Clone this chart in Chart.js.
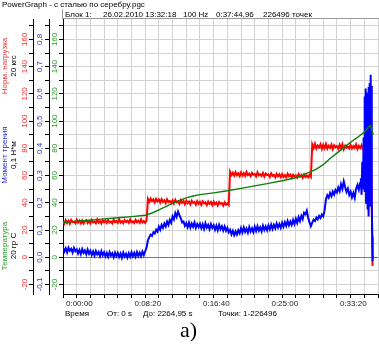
<!DOCTYPE html>
<html lang="ru">
<head>
<meta charset="UTF-8" />
<title>PowerGraph - с сталью по серебру.pgc</title>
<script src="https://cdn.jsdelivr.net/npm/chart.js"></script>
<style>
  body { margin: 0; background: #fff; }
  #wrap { position: relative; width: 379px; height: 345px; overflow: hidden;
          font-family: "Liberation Sans", Arial, sans-serif; font-size: 8px; color: #000; }
  #wrap canvas { position: absolute; left: 0; top: 0; }
  .txt { position: absolute; white-space: nowrap; line-height: 9px; }
  .vt { position: absolute; width: 80px; height: 18px; line-height: 9px; text-align: center;
        white-space: nowrap; transform: rotate(-90deg); }
  #blockbar { position: absolute; left: 62px; top: 9px; width: 317px; height: 9px;
              border-left: 1px solid #999; border-bottom: 1px solid #999; }
</style>
</head>
<body>
<div id="wrap">
  <canvas id="pgChart" width="379" height="345"></canvas>

  <div class="txt" style="left:2px; top:0px;">PowerGraph - с сталью по серебру.pgc</div>
  <div id="blockbar"></div>
  <div class="txt" style="left:65px; top:10px;">Блок 1:</div>
  <div class="txt" style="left:103px; top:10px;">26.02.2010 13:32:18</div>
  <div class="txt" style="left:183px; top:10px;">100 Hz</div>
  <div class="txt" style="left:216px; top:10px;">0:37:44,96</div>
  <div class="txt" style="left:263px; top:10px;">226496 точек</div>

  <!-- подписи осей слева -->
  <div class="vt" style="left:-31px; top:57px;"><span style="color:#f03030">Норм. нагрузка</span><br>20 кгс</div>
  <div class="vt" style="left:-31px; top:146px;"><span style="color:#2828d0">Момент трения</span><br>0,1 Н*м</div>
  <div class="vt" style="left:-31px; top:237px;"><span style="color:#30a030">Температура</span><br>20 гр С</div>

  <div class="txt" style="left:65px; top:309px;">Время</div>
  <div class="txt" style="left:107px; top:309px;">От: 0 s</div>
  <div class="txt" style="left:143px; top:309px;">До: 2264,95 s</div>
  <div class="txt" style="left:218px; top:309px;">Точки: 1-226496</div>
  <div class="txt" style="left:180px; top:318px; font-family:'Liberation Serif', serif; font-size:22px; line-height:24px;">a)</div>
</div>

<script>
  // отсчёты каждые 10 s, от 0 до 2260 s
  const SAMPLE_STEP = 10;

  // Норм. нагрузка (ед. шкалы 20 кгс)
  const loadValues = [
    26.5, 24.8, 27.2, 25.1, 26.9, 24.6, 27.4, 25.8, 26.1, 24.9,
    27.6, 25.3, 26.8, 25.0, 27.1, 24.7, 26.4, 27.3, 25.2, 26.7,
    24.9, 27.5, 25.6, 26.2, 25.0, 27.8, 25.4, 26.6, 24.8, 27.2,
    25.7, 26.9, 25.1, 27.4, 25.5, 26.3, 24.9, 27.6, 25.8, 26.7,
    25.2, 27.9, 25.4, 26.5, 25.0, 27.3, 25.9, 26.8, 25.3, 27.7,
    25.6, 26.4, 25.1, 27.5, 25.7, 26.9, 25.3, 27.8, 25.5, 26.6,
    25.2, 27.0, 42.8, 40.6, 43.1, 41.2, 42.5, 40.3, 42.9, 41.0,
    42.4, 40.1, 42.7, 40.8, 41.9, 39.8, 42.6, 40.5, 41.3, 39.9,
    41.8, 39.5, 42.2, 40.3, 41.0, 39.2, 41.9, 40.0, 41.4, 38.9,
    41.6, 39.7, 40.9, 38.8, 41.5, 39.9, 40.6, 38.6, 41.2, 39.4,
    40.7, 38.5, 41.1, 39.6, 40.2, 38.3, 40.9, 39.1, 40.5, 38.2,
    40.8, 38.9, 40.1, 38.0, 40.6, 39.3, 39.7, 37.9, 40.4, 38.6,
    39.5, 38.4, 62.8, 60.4, 62.1, 59.9, 62.5, 60.2, 61.7, 59.6,
    62.3, 60.0, 61.8, 59.7, 62.6, 60.3, 61.4, 59.5, 62.0, 60.6,
    61.2, 59.3, 62.4, 60.1, 61.0, 59.6, 61.9, 59.2, 61.5, 60.4,
    60.8, 58.9, 61.6, 59.8, 60.5, 58.7, 61.3, 59.4, 60.9, 58.8,
    61.1, 59.0, 60.3, 58.6, 61.4, 59.5, 60.7, 58.5, 60.6, 59.2,
    60.2, 58.4, 61.0, 59.1, 60.4, 58.3, 60.8, 58.9, 60.1, 58.7,
    60.5, 59.0, 82.9, 80.2, 83.4, 79.8, 82.1, 80.6, 83.0, 79.5,
    82.6, 80.0, 83.2, 79.7, 81.9, 80.4, 82.8, 79.4, 82.3, 80.8,
    81.6, 79.6, 82.7, 80.1, 83.1, 79.3, 82.0, 80.5, 81.4, 79.9,
    82.5, 79.8, 81.7, 80.3, 82.9, 79.5, 81.8, 80.2, 82.4, 79.7,
    81.5, 80.1, 82.2, 79.6, 81.0, 78.5, -6.5
  ];

  // Момент трения, Н*м, от 0 до 2170 s
  const frictionValues = [
    0.036, 0.021, 0.033, 0.018, 0.035, 0.024, 0.031, 0.017, 0.034, 0.022,
    0.029, 0.014, 0.027, 0.012, 0.030, 0.016, 0.025, 0.011, 0.028, 0.013,
    0.024, 0.008, 0.021, 0.006, 0.023, 0.010, 0.019, 0.004, 0.022, 0.007,
    0.018, 0.003, 0.016, 0.001, 0.019, 0.006, 0.015, 0.000, 0.017, 0.004,
    0.016, 0.001, 0.014, -0.002, 0.017, 0.003, 0.013, -0.001, 0.015, 0.002,
    0.018, 0.003, 0.016, 0.002, 0.019, 0.005, 0.017, 0.004, 0.021, 0.008,
    0.022, 0.035, 0.062, 0.074, 0.083, 0.078, 0.092, 0.087, 0.101, 0.094,
    0.112, 0.101, 0.119, 0.108, 0.124, 0.113, 0.131, 0.119, 0.137, 0.126,
    0.150, 0.139, 0.162, 0.148, 0.168, 0.155, 0.143, 0.128, 0.131, 0.115,
    0.125, 0.110, 0.127, 0.109, 0.124, 0.112, 0.128, 0.108, 0.122, 0.111,
    0.123, 0.107, 0.121, 0.104, 0.125, 0.109, 0.119, 0.103, 0.122, 0.108,
    0.118, 0.101, 0.116, 0.099, 0.119, 0.103, 0.114, 0.098, 0.113, 0.097,
    0.108, 0.092, 0.101, 0.084, 0.097, 0.081, 0.095, 0.083, 0.099, 0.088,
    0.107, 0.091, 0.109, 0.093, 0.105, 0.090, 0.111, 0.094, 0.106, 0.092,
    0.112, 0.096, 0.114, 0.098, 0.110, 0.095, 0.116, 0.100, 0.113, 0.099,
    0.117, 0.102, 0.120, 0.104, 0.119, 0.106, 0.124, 0.109, 0.122, 0.108,
    0.127, 0.112, 0.129, 0.115, 0.133, 0.117, 0.131, 0.119, 0.137, 0.122,
    0.141, 0.126, 0.147, 0.133, 0.152, 0.140, 0.163, 0.158, 0.171, 0.145,
    0.128, 0.114, 0.127, 0.138, 0.133, 0.146, 0.139, 0.152, 0.144, 0.157,
    0.150, 0.172, 0.213, 0.228, 0.219, 0.236, 0.224, 0.241, 0.230, 0.247,
    0.238, 0.256, 0.243, 0.268, 0.251, 0.279, 0.258, 0.240, 0.252, 0.229,
    0.241, 0.220, 0.236, 0.218, 0.252, 0.266, 0.248, 0.274
  ];

  // всплеск момента в конце опыта (снят чаще)
  const burstTimes = [2175, 2180, 2185, 2190, 2195, 2198, 2200, 2203, 2205, 2208, 2210,
                      2213, 2215, 2218, 2220, 2223, 2225, 2228, 2230, 2233, 2235, 2238,
                      2240, 2243, 2245, 2248, 2250, 2253, 2256, 2258, 2260, 2262, 2264];
  const burstValues = [0.290, 0.230, 0.350, 0.250, 0.440, 0.275, 0.520, 0.240, 0.590, 0.310, 0.620,
                       0.200, 0.560, 0.330, 0.605, 0.175, 0.580, 0.290, 0.625, 0.150, 0.600, 0.260,
                       0.640, 0.190, 0.670, 0.300, 0.630, 0.360, 0.200, 0.075, -0.015, 0.010, -0.005];

  // Температура (ед. шкалы 20 гр С)
  const tempTimes = [0, 100, 200, 300, 400, 500, 600, 650, 700, 750, 800, 850, 900, 950, 1000,
                     1100, 1200, 1300, 1400, 1500, 1600, 1700, 1750, 1800, 1850, 1900, 1950,
                     2000, 2050, 2100, 2150, 2200, 2230, 2245, 2255, 2265];
  const tempValues = [25.5, 26.5, 27.3, 28.2, 29.0, 29.8, 30.8, 32.5, 34.8, 37.2, 39.6, 41.8, 43.6, 45.0, 46.0,
                      47.3, 48.8, 50.6, 52.4, 54.3, 56.2, 58.4, 60.3, 62.5, 64.8, 68.0, 72.5,
                      76.5, 80.5, 84.5, 88.0, 92.0, 95.5, 96.8, 93.5, 90.0];

  const RED = "#ff0000", BLUE = "#0000ff", GREEN = "#0a800a";
  const GRID = "#d2d2d2";
  const tickFont = { family: "Liberation Sans", size: 8 };

  const loadPts = loadValues.map((v, i) => ({ x: i * SAMPLE_STEP, y: v }));
  const frictionPts = frictionValues.map((v, i) => ({ x: i * SAMPLE_STEP, y: v }))
    .concat(burstTimes.map((t, i) => ({ x: t, y: burstValues[i] })));
  const tempPts = tempTimes.map((t, i) => ({ x: t, y: tempValues[i] }));

  function clock(sec) {
    const h = Math.floor(sec / 3600);
    const m = Math.floor((sec % 3600) / 60);
    const s = Math.round(sec % 60);
    return h + ":" + String(m).padStart(2, "0") + ":" + String(s).padStart(2, "0");
  }

  function leftAxis(color, weight, width, min, max, step, label, showGrid) {
    return {
      type: "linear",
      position: "left",
      weight: weight,
      min: min,
      max: max,
      afterFit: (scale) => { scale.width = width; },
      border: { display: true, color: "#000", width: 1 },
      grid: {
        drawOnChartArea: showGrid,
        color: (c) => (c.tick && c.tick.value === 0 ? "#3aa03a" : GRID),
        tickColor: "#000",
        tickLength: 4
      },
      ticks: {
        stepSize: step,
        includeBounds: false,
        autoSkip: false,
        minRotation: 90,
        maxRotation: 90,
        crossAlign: "center",
        padding: -2,
        color: color,
        font: tickFont,
        callback: label
      }
    };
  }

  const ctx = document.getElementById("pgChart").getContext("2d");
  new Chart(ctx, {
    type: "line",
    data: {
      datasets: [
        { label: "Температура", data: tempPts, yAxisID: "yTemp", borderColor: GREEN, borderWidth: 1.4 },
        { label: "Момент трения", data: frictionPts, yAxisID: "yFric", borderColor: BLUE, borderWidth: 2 },
        { label: "Норм. нагрузка", data: loadPts, yAxisID: "yLoad", borderColor: RED, borderWidth: 2 }
      ]
    },
    options: {
      responsive: false,
      animation: false,
      devicePixelRatio: 1,
      layout: { padding: { left: 0, top: 19, right: 0, bottom: 35 } },
      elements: { point: { radius: 0 }, line: { tension: 0 } },
      plugins: { legend: { display: false }, tooltip: { enabled: false } },
      scales: {
        x: {
          type: "linear",
          min: 0,
          max: 2300,
          afterFit: (scale) => { scale.height = 16; },
          border: { display: true, color: "#000", width: 1 },
          grid: { color: GRID, tickColor: "#000", tickLength: 4 },
          ticks: {
            stepSize: 100,
            includeBounds: false,
            autoSkip: false,
            maxRotation: 0,
            align: "start",
            labelOffset: 3,
            padding: 1,
            color: "#222",
            font: tickFont,
            callback: (v) => (v % 500 === 0 ? clock(v) : "")
          }
        },
        yLoad: leftAxis("#f03030", 2, 33, -27, 175, 10,
          (v) => (v % 20 === 0 ? String(v) : ""), false),
        yFric: leftAxis("#3030c8", 1, 16, -0.135, 0.875, 0.05,
          (v) => (Math.round(v * 100) % 10 === 0 ? v.toFixed(1).replace(".", ",") : ""), false),
        yTemp: leftAxis("#2e9a2e", 0, 14, -27, 175, 10,
          (v) => (v % 20 === 0 ? String(v) : ""), true)
      }
    }
  });
</script>
</body>
</html>
